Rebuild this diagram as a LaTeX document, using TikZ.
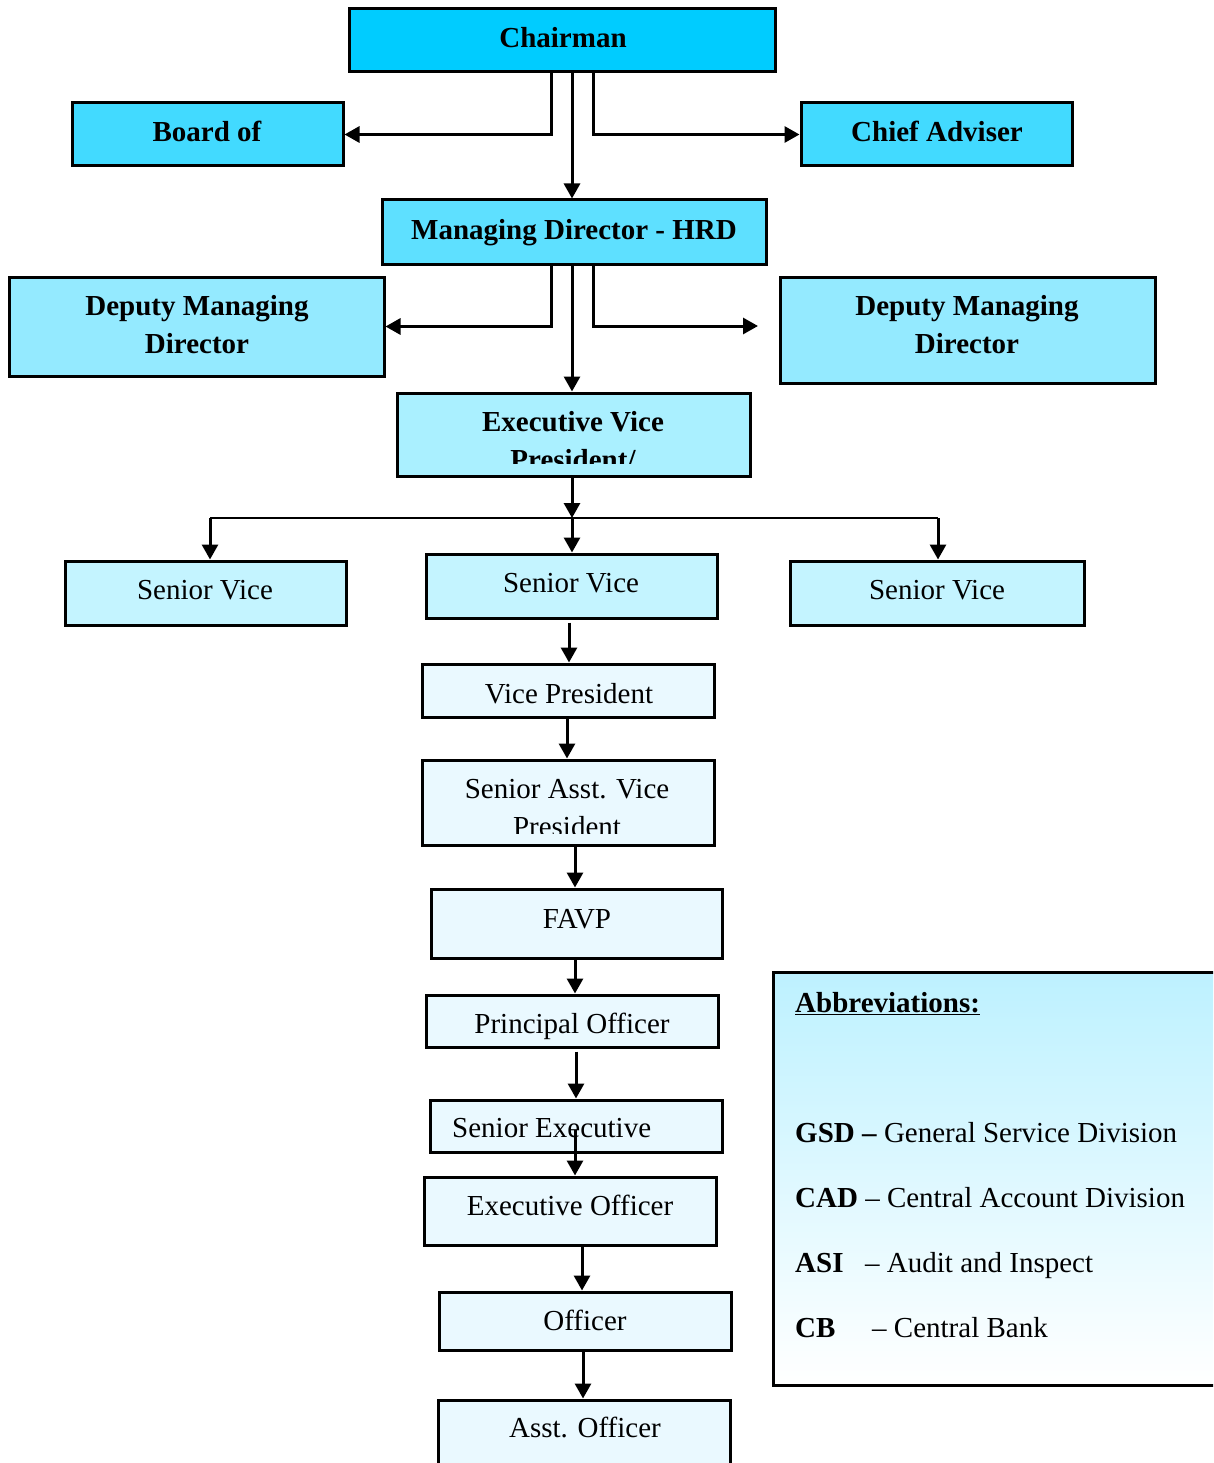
\documentclass[tikz,border=0pt]{standalone}
\usepackage{fontspec}
\setmainfont{Liberation Serif}
\usetikzlibrary{arrows.meta}
\definecolor{cChair}{HTML}{00CCFF}
\definecolor{cBoard}{HTML}{42DAFF}
\definecolor{cMD}{HTML}{5EE0FF}
\definecolor{cDMD}{HTML}{94EAFF}
\definecolor{cEVP}{HTML}{AAF0FF}
\definecolor{cSV}{HTML}{C4F4FF}
\definecolor{cLow}{HTML}{EAF9FF}
\definecolor{cAbbr}{HTML}{BDF1FF}
\newcommand\bigfont{\fontsize{29}{37}\selectfont}
\tikzset{
  box/.style={draw=black, line width=3pt, rectangle, inner sep=0pt},
  bt/.style={anchor=base, inner sep=0pt, font=\bigfont\bfseries},
  rt/.style={anchor=base, inner sep=0pt, font=\bigfont},
  lt/.style={anchor=base west, inner sep=0pt, font=\bigfont},
  arr/.style={line width=3pt, -{Triangle[length=15pt,width=16pt]}},
}
\begin{document}
\begin{tikzpicture}[x=1pt,y=-1pt]
\clip (0,0) rectangle (1213,1463);
\fill[white] (0,0) rectangle (1213,1463);
% boxes
\node[box, fill=cChair, minimum width=426pt, minimum height=63pt] (chair) at (562,40.5) {};
\node[box, fill=cBoard, minimum width=271pt, minimum height=63pt] (board) at (207.5,134.5) {};
\node[box, fill=cBoard, minimum width=271pt, minimum height=63pt] (chief) at (936.5,134.5) {};
\node[box, fill=cMD, minimum width=384pt, minimum height=64pt] (md) at (574,232) {};
\node[box, fill=cDMD, minimum width=375pt, minimum height=99pt] (dmdl) at (196.5,326.5) {};
\node[box, fill=cDMD, minimum width=375pt, minimum height=106pt] (dmdr) at (967.5,330) {};
\node[box, fill=cEVP, minimum width=353pt, minimum height=83pt] (evp) at (573.5,434.5) {};
\node[box, fill=cSV, minimum width=281pt, minimum height=64pt] (sv1) at (205.5,593) {};
\node[box, fill=cSV, minimum width=291pt, minimum height=64pt] (sv2) at (571.5,586) {};
\node[box, fill=cSV, minimum width=294pt, minimum height=64pt] (sv3) at (937,593) {};
\node[box, fill=cLow, minimum width=292pt, minimum height=53pt] (vp) at (568,690.5) {};
\node[box, fill=cLow, minimum width=292pt, minimum height=85pt] (savp) at (568,802.5) {};
\node[box, fill=cLow, minimum width=291pt, minimum height=69pt] (favp) at (576.5,923.5) {};
\node[box, fill=cLow, minimum width=292pt, minimum height=52pt] (po) at (572,1021) {};
\node[box, fill=cLow, minimum width=292pt, minimum height=52pt] (se) at (576,1126) {};
\node[box, fill=cLow, minimum width=292pt, minimum height=68pt] (eo) at (570,1211) {};
\node[box, fill=cLow, minimum width=292pt, minimum height=58pt] (off) at (585,1321) {};
\node[box, fill=cLow, minimum width=292pt, minimum height=80pt] (ao) at (584,1440) {};
\node[box, top color=cAbbr, bottom color=white, minimum width=457pt, minimum height=413pt] (abbr) at (1001.5,1178.5) {};
% texts
\node[bt] (chair-t) at (563,48) {Chairman};
\node[bt] (board-t) at (207,142) {Board of};
\node[bt] (chief-t) at (937,142) {Chief Adviser};
\node[bt] (md-t) at (574,240) {Managing Director - HRD};
\node[bt] (dmdl-t1) at (197,315) {Deputy Managing};
\node[bt] (dmdl-t2) at (197,353) {Director};
\node[bt] (dmdr-t1) at (967,315) {Deputy Managing};
\node[bt] (dmdr-t2) at (967,353) {Director};
\node[bt] (evp-t1) at (573,431) {Executive Vice};
\begin{scope}
  \clip (400,440) rectangle (748,463);
  \node[bt] (evp-t2) at (573,469) {President/};
\end{scope}
\node[rt] (sv1-t) at (205,599) {Senior Vice};
\node[rt] (sv2-t) at (571,592) {Senior Vice};
\node[rt] (sv3-t) at (937,599) {Senior Vice};
\node[rt] (vp-t) at (569,703) {Vice President};
\node[rt] (savp-t1) at (567,798) {Senior Asst. Vice};
\begin{scope}
  \clip (425,805) rectangle (711,833);
  \node[rt] (savp-t2) at (567,836) {President};
\end{scope}
\node[rt] (favp-t) at (577,928) {FAVP};
\node[rt] (po-t) at (572,1033) {Principal Officer};
\node[lt] (se-t) at (452,1137) {Senior Executive};
\node[rt] (eo-t) at (570,1215) {Executive Officer};
\node[rt] (off-t) at (585,1330) {Officer};
\node[rt] (ao-t) at (585,1437) {Asst. Officer};
\node[lt] (ab-title) at (795,1012) {\bfseries\underline{Abbreviations:}};
\node[lt] (ab-gsd) at (795,1142) {\textbf{GSD –} General Service Division};
\node[lt] (ab-cad) at (795,1207) {\textbf{CAD} – Central Account Division};
\node[lt] (ab-asi) at (795,1272) {\makebox[70pt][l]{\textbf{ASI}}– Audit and Inspect};
\node[lt] (ab-cb) at (795,1337) {\makebox[77pt][l]{\textbf{CB}}– Central Bank};
% connectors
\coordinate (rtend) at (758,326);
\coordinate (bar) at (572,518);
\coordinate (barl) at (210,518);
\coordinate (barr) at (938,518);
\draw[arr] ([xshift=-11pt]chair.south) |- (board.east);
\draw[arr] ([xshift=10pt]chair.south) -- ([xshift=-2pt]md.north);
\draw[arr] ([xshift=31pt]chair.south) |- (chief.west);
\draw[arr] ([xshift=-23pt]md.south) |- (dmdl.east);
\draw[arr] ([xshift=-2pt]md.south) -- ([xshift=-1.5pt]evp.north);
\draw[arr] ([xshift=19pt]md.south) |- (rtend);
\draw[arr] ([xshift=-1.5pt]evp.south) -- (bar);
\draw[line width=2.2pt] (barl) -- (barr);
\draw[arr] (barl) -- (barl |- sv1.north);
\draw[arr] (bar) -- (bar |- sv2.north);
\draw[arr] (barr) -- (barr |- sv3.north);
\draw[arr] ([xshift=-2.5pt,yshift=-3pt]sv2.south) -- ([xshift=1pt]vp.north);
\draw[arr] ([xshift=-1pt]vp.south) -- ([xshift=-1pt]savp.north);
\draw[arr] ([xshift=7pt]savp.south) -- ([xshift=-1.5pt]favp.north);
\draw[arr] ([xshift=-1.5pt]favp.south) -- ([xshift=3pt]po.north);
\draw[arr] ([xshift=4pt,yshift=-3pt]po.south) -- (se.north);
\draw[arr] ([xshift=-1pt,yshift=-4pt]se.center) -- ([xshift=5pt]eo.north);
\draw[arr] ([xshift=12pt]eo.south) -- ([xshift=-3pt]off.north);
\draw[arr] ([xshift=-2pt]off.south) -- ([xshift=-1pt]ao.north);
\end{tikzpicture}
\end{document}
